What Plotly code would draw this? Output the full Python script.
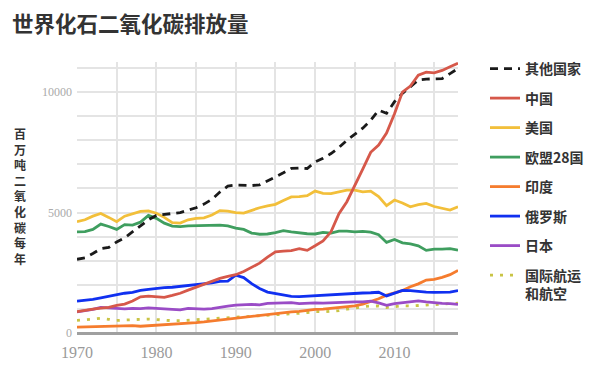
import plotly.graph_objects as go

years = list(range(1970, 2019))

others = [3060, 3120, 3300, 3500, 3550, 3780, 3950, 4200, 4450, 4700,
          4880, 4920, 4950, 5000, 5100, 5200, 5350, 5550, 5850, 6100,
          6140, 6120, 6120, 6150, 6300, 6480, 6650, 6830, 6850, 6830,
          7100, 7250, 7450, 7700, 8000, 8250, 8500, 8830, 9250, 9120,
          9600, 9950, 10220, 10500, 10540, 10540, 10560, 10770, 10980]

china = [886, 950, 990, 1030, 1060, 1150, 1200, 1330, 1500, 1530,
         1500, 1480, 1560, 1650, 1780, 1900, 2000, 2150, 2270, 2350,
         2420, 2550, 2720, 2900, 3150, 3370, 3400, 3420, 3500, 3430,
         3620, 3820, 4200, 4950, 5450, 6100, 6800, 7500, 7800, 8300,
         9100, 10000, 10250, 10700, 10830, 10800, 10900, 11050, 11200]

usa = [4620, 4700, 4850, 4960, 4800, 4620, 4850, 4950, 5050, 5070,
       4970, 4800, 4580, 4560, 4700, 4760, 4780, 4900, 5080, 5060,
       5000, 4980, 5100, 5200, 5280, 5340, 5500, 5650, 5660, 5700,
       5890, 5800, 5790, 5850, 5930, 5930, 5860, 5890, 5660, 5290,
       5520, 5400, 5240, 5330, 5380, 5250, 5170, 5100, 5240]

eu28 = [4200, 4210, 4300, 4520, 4420, 4300, 4500, 4480, 4600, 4880,
        4760, 4560, 4440, 4420, 4450, 4460, 4470, 4500, 4480, 4450,
        4350, 4300, 4150, 4100, 4110, 4170, 4250, 4200, 4150, 4120,
        4110, 4180, 4150, 4230, 4230, 4200, 4220, 4190, 4080, 3760,
        3880, 3740, 3700, 3620, 3430, 3480, 3480, 3500, 3440]

india = [240, 250, 260, 265, 275, 290, 300, 310, 280, 300,
         300, 330, 350, 380, 400, 430, 460, 500, 540, 580,
         610, 650, 690, 720, 760, 810, 850, 880, 900, 950,
         980, 990, 1020, 1050, 1100, 1130, 1200, 1300, 1420, 1570,
         1680, 1760, 1920, 2040, 2200, 2230, 2310, 2420, 2600]

russia = [1320, 1350, 1400, 1460, 1530, 1600, 1650, 1690, 1770, 1810,
          1860, 1880, 1900, 1930, 1960, 1990, 2020, 2080, 2140, 2150,
          2400, 2300, 2050, 1850, 1700, 1640, 1560, 1520, 1510, 1530,
          1560, 1570, 1580, 1620, 1630, 1640, 1660, 1670, 1690, 1540,
          1650, 1770, 1760, 1720, 1700, 1690, 1680, 1700, 1760]

japan = [880, 920, 980, 1060, 1040, 990, 1000, 1020, 1010, 1040,
         1020, 1000, 970, 960, 1020, 1000, 990, 1010, 1080, 1120,
         1160, 1180, 1190, 1170, 1230, 1240, 1260, 1260, 1220, 1240,
         1250, 1240, 1260, 1270, 1280, 1290, 1290, 1320, 1250, 1150,
         1220, 1260, 1310, 1330, 1290, 1250, 1230, 1220, 1190]

bunkers = [520, 560, 590, 610, 570, 520, 540, 560, 570, 580,
           560, 530, 510, 510, 530, 540, 560, 580, 600, 630,
           660, 670, 680, 690, 720, 740, 770, 800, 820, 850,
           890, 880, 900, 930, 990, 1050, 1090, 1120, 1120, 1060,
           1110, 1130, 1120, 1140, 1160, 1190, 1210, 1230, 1240]

series_names = ["其他国家", "中国", "美国", "欧盟28国", "印度", "俄罗斯", "日本", "国际航运<br>和航空"]
series_values = [others, china, usa, eu28, india, russia, japan, bunkers]
series_colors = ["#1a1a1a", "#d6584a", "#f2bf3a", "#3f9e5f", "#f57c2e", "#1030f0", "#9a4cc6", "#c9c445"]
series_dash = ["8px,6px", "solid", "solid", "solid", "solid", "solid", "solid", "3px,7px"]

title_text = "世界化石二氧化碳排放量"
ytitle_text = "百万吨二氧化碳每年"

cjk = "Noto Sans CJK SC"
serif = "Liberation Serif"

# the page body has an 8px default margin, so the figure is laid out 8px smaller
W, H = 592, 358
L, T, R, B = 69, 54, 142, 33
PW, PH = W - L - R, H - T - B

fig = go.Figure()
order = [7, 4, 6, 5, 3, 2, 0, 1]  # drawing order, bottom to top
for i in order:
    fig.add_trace(go.Scatter(
        x=years, y=series_values[i], mode="lines", name=series_names[i],
        legendgroup=f"g{i}", legendrank=i + 1,
        line=dict(color=series_colors[i], width=2.8, dash=series_dash[i]),
        hoverinfo="skip",
    ))

fig.update_layout(
    width=W, height=H,
    margin=dict(l=L, r=R, t=T, b=B, autoexpand=False),
    paper_bgcolor="white", plot_bgcolor="white",
    title=dict(text=f"<b>{title_text}</b>", x=4 / W, xref="container", xanchor="left",
               y=1 - 16 / H, yref="container", yanchor="middle",
               font=dict(family=cjk, size=21.5, color="#333333")),
    legend=dict(x=(477 - L) / PW, xanchor="left", y=1 + 9 / PH, yanchor="top",
                maxheight=340,
                font=dict(family=cjk, size=14, color="#333333", weight="bold"),
                tracegroupgap=8.3, valign="top", bgcolor="rgba(0,0,0,0)"),
    showlegend=True,
)

fig.update_xaxes(range=[1970, 2018], dtick=10, tick0=1970, showgrid=True,
                 gridcolor="#e4e4e4", gridwidth=1.5,
                 minor=dict(dtick=5, showgrid=True, gridcolor="#e4e4e4", gridwidth=1.5),
                 showline=False, zeroline=False, ticks="", ticklabelstandoff=8,
                 tickfont=dict(family=serif, size=16, color="#9a9a9a"))
fig.update_yaxes(range=[0, 11250], dtick=5000, tickformat="d", showgrid=True,
                 gridcolor="#e4e4e4", gridwidth=1.5,
                 minor=dict(dtick=1000, showgrid=True, gridcolor="#e4e4e4", gridwidth=1.5),
                 zeroline=True, zerolinecolor="#a0a0a0", zerolinewidth=2.5,
                 showline=False, ticks="", ticklabelstandoff=4,
                 tickfont=dict(family=serif, size=12, color="#aaaaaa"))

fig.add_annotation(text="<b>" + "<br>".join(list(ytitle_text)) + "</b>",
                   xref="paper", yref="paper", x=-(L - 12) / PW, y=(325 - 188) / PH,
                   xanchor="center", yanchor="middle", showarrow=False, align="center",
                   font=dict(family=cjk, size=12, color="#333333"))

fig.write_html("out.html")
